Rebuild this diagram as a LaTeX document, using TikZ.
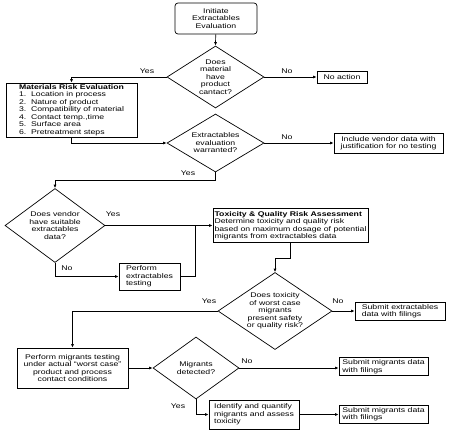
\documentclass[tikz,border=0pt]{standalone}
\usepackage{fontspec}
\setmainfont[FakeStretch=1.28]{Liberation Sans}
\usetikzlibrary{shapes.geometric,arrows.meta,calc}
\begin{document}
\begin{tikzpicture}[x=1pt,y=-1pt,
  every node/.style={font=\fontsize{6.8}{7.5}\selectfont},
  box/.style={draw,line width=0.7pt,inner sep=0pt,rectangle},
  dia/.style={draw,line width=0.7pt,diamond,inner sep=0pt},
  txt/.style={inner sep=0pt,align=center},
  lbl/.style={inner sep=0pt},
  conn/.style={line width=0.7pt},
  arr/.style={conn,-{Latex[length=3.5pt,width=3pt]}}]
\useasboundingbox (0,0) rectangle (450,432);
% boxes
\node[box,rounded corners=3pt,minimum width=82pt,minimum height=31pt,align=center] (init) at (216,18.5) {Initiate\\Extractables\\Evaluation};
\node[box,minimum width=50pt,minimum height=12pt] (noact) at (342,77) {No action};
\node[box,minimum width=131pt,minimum height=54pt,align=left] (mat) at (71.5,110) {\textbf{Materials Risk Evaluation}\\1.\ \ Location in process\\2.\ \ Nature of product\\3.\ \ Compatibility of material\\4.\ \ Contact temp.,time\\5.\ \ Surface area\\6.\ \ Pretreatment steps};
\node[box,minimum width=109pt,minimum height=20pt,align=center] (vend) at (388.5,143) {Include vendor data with\\justification for no testing};
\node[box,minimum width=155pt,minimum height=34pt,align=left] (tox) at (290.5,225.5) {\textbf{Toxicity \& Quality Risk Assessment}\\Determine toxicity and quality risk\\based on maximum dosage of potential\\migrants from extractables data};
\node[box,minimum width=61pt,minimum height=27pt,align=left] (perf) at (149.5,276.5) {Perform\\extractables\\testing};
\node[box,minimum width=90pt,minimum height=18pt,align=left] (subext) at (400,311) {Submit extractables\\data with filings};
\node[box,minimum width=111pt,minimum height=40pt,align=center] (mig) at (72.5,368) {Perform migrants testing\\under actual ``worst case''\\product and process\\contact conditions};
\node[box,minimum width=89pt,minimum height=18pt,align=left] (sub1) at (383.5,366.5) {Submit migrants data\\with filings};
\node[box,minimum width=90pt,minimum height=29pt,align=left] (ident) at (254,414.5) {Identify and quantify\\migrants and assess\\toxicity};
\node[box,minimum width=89pt,minimum height=18pt,align=left] (sub2) at (383.5,414) {Submit migrants data\\with filings};
% diamonds
\node[dia,minimum width=97pt,minimum height=62pt] (d1) at (215.5,77) {};
\node[txt] (t1) at (d1) {Does\\material\\have\\product\\cantact?};
\node[dia,minimum width=97pt,minimum height=58pt] (d2) at (215.5,143) {};
\node[txt] (t2) at (d2) {Extractables\\evaluation\\warranted?};
\node[dia,minimum width=100pt,minimum height=74pt] (d3) at (55,225.5) {};
\node[txt] (t3) at (d3) {Does vendor\\have suitable\\extractables\\data?};
\node[dia,minimum width=114pt,minimum height=77pt] (d4) at (275,311) {};
\node[txt] (t4) at (d4) {Does toxicity\\of worst case\\migrants\\present safety\\or quality risk?};
\node[dia,minimum width=86pt,minimum height=62pt] (d5) at (196,368) {};
\node[txt] (t5) at (d5) {Migrants\\detected?};
% coordinates
\coordinate (c1) at (215.5,180);
\coordinate (c2) at (195,225.5);
\coordinate (c4) at (290.5,258);
% connectors
\draw[arr] (init) -- (d1.north);
\draw[arr] (d1.west) -| (mat.north);
\draw[arr] (d1.east) -- (noact.west);
\draw[arr] (mat.south) |- (d2.west);
\draw[arr] (d2.east) -- (vend.west);
\draw[arr] (d2.south) -- (c1) -| (d3.north);
\draw[arr] (d3.east) -- (tox.west);
\draw[arr] (d3.south) |- (perf.west);
\draw[conn] (perf.east) -| (c2);
\draw[arr] (tox.south) -- (c4) -| (d4.north);
\draw[arr] (d4.east) -- (subext.west);
\draw[arr] (d4.west) -| (mig.north);
\draw[arr] (mig.east) -- (d5.west);
\draw[arr] (d5.east) -- (d5.east -| sub1.west);
\draw[arr] (d5.south) |- (ident.west);
\draw[arr] (ident.east) -- (ident.east -| sub2.west);
% labels
\node[lbl] (l1) at (147,71) {Yes};
\node[lbl] (l2) at (287,71) {No};
\node[lbl] (l3) at (287,137) {No};
\node[lbl] (l4) at (188,173) {Yes};
\node[lbl] (l5) at (113,214) {Yes};
\node[lbl] (l6) at (67,268) {No};
\node[lbl] (l7) at (209,301) {Yes};
\node[lbl] (l8) at (338,301) {No};
\node[lbl] (l9) at (247,361) {No};
\node[lbl] (l10) at (178,406) {Yes};
\end{tikzpicture}
\end{document}
